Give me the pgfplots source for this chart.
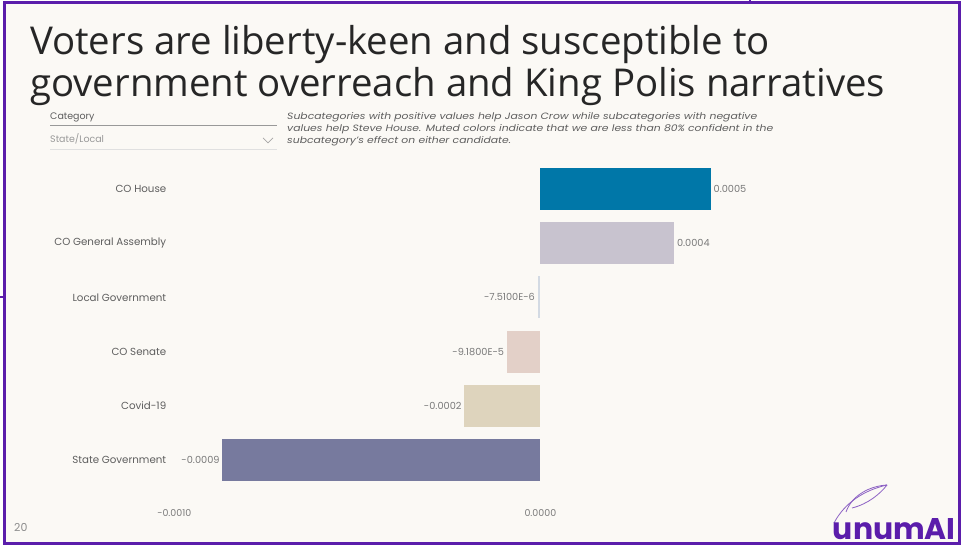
\documentclass[border=0pt]{standalone}
\usepackage{pgfplots}
\pgfplotsset{compat=1.18}
\usepackage{fontspec}
\setmainfont{Poppins}
\newfontfamily\titlefont{Open Sans}
\definecolor{bgc}{HTML}{FBF9F5}
\definecolor{framec}{HTML}{5B1DAB}
\definecolor{txt}{HTML}{5E5E5E}
\definecolor{lbl}{HTML}{7A7A7A}
\definecolor{cHouse}{HTML}{0077A8}
\definecolor{cGA}{HTML}{C8C3CF}
\definecolor{cLocal}{HTML}{D3DAE3}
\definecolor{cSenate}{HTML}{E3D0C8}
\definecolor{cCovid}{HTML}{DED4BD}
\definecolor{cState}{HTML}{777A9E}
\begin{document}
\begin{tikzpicture}[x=1bp,y=1bp]
\useasboundingbox (0,0) rectangle (964,550);
\fill[white] (0,0) rectangle (964,550);
\fill[bgc] (4,6) rectangle (960,547);
\draw[framec,line width=3bp] (4.5,6.5) rectangle (959.5,547);
\draw[framec,line width=2bp] (0,253) -- (5,253);
\draw[framec,line width=1.5bp] (750,547) -- (750,550);
% title
\node[anchor=base west,inner sep=0,font=\titlefont\fontsize{38.5}{44}\selectfont,text=black!85] at (30,495) {Voters are liberty-keen and susceptible to};
\node[anchor=base west,inner sep=0,font=\titlefont\fontsize{38.5}{44}\selectfont,text=black!85] at (30,453) {government overreach and King Polis narratives};
% filter widget
\node[anchor=base west,inner sep=0,font=\fontsize{9.5}{11}\selectfont,text=txt] at (50,430) {Category};
\draw[black!40,line width=0.8bp] (50,425) -- (277,425);
\node[anchor=base west,inner sep=0,font=\fontsize{9.5}{11}\selectfont,text=black!40] at (50,407) {State/Local};
\draw[black!35,line width=0.7bp] (263,412) -- (268,407) -- (273,412);
\draw[black!12,line width=0.7bp] (50,401) -- (277,401);
\begin{scope}[xscale=1.18]
\node[anchor=base west,inner sep=0,transform shape,font=\itshape\fontsize{9.2}{11}\selectfont,text=txt] at (287/1.18,430) {Subcategories with positive values help Jason Crow while subcategories with negative};
\node[anchor=base west,inner sep=0,transform shape,font=\itshape\fontsize{9.2}{11}\selectfont,text=txt] at (287/1.18,418) {values help Steve House. Muted colors indicate that we are less than 80\% confident in the};
\node[anchor=base west,inner sep=0,transform shape,font=\itshape\fontsize{9.2}{11}\selectfont,text=txt] at (287/1.18,406) {subcategory's effect on either candidate.};
\end{scope}
% page number
\node[anchor=base west,inner sep=0,font=\fontsize{11}{12}\selectfont,text=black!45] at (14,18) {20};
% logo
\draw[framec!70,line width=0.8bp] (834,27) .. controls (845,48) and (865,60) .. (887,65);
\draw[framec!70,line width=0.8bp] (846,38) .. controls (852,55) and (870,64) .. (887,65);
\draw[framec!70,line width=0.8bp] (852,42) .. controls (868,46) and (880,56) .. (887,65);
\node[anchor=base east,inner sep=0,font=\bfseries\fontsize{30}{32}\selectfont,text=framec] at (956,10) {unumAI};
% chart
\begin{axis}[
  at={(167bp,63bp)}, anchor=south west,
  scale only axis, width=776bp, height=325bp,
  xbar, bar width=42bp,
  xmin=-0.00102, xmax=0.0011,
  ymin=-0.5, ymax=5.5, y dir=reverse,
  scaled x ticks=false,
  axis line style={draw=none}, tick style={draw=none},
  xtick={-0.001,0}, xticklabels={-0.0010,0.0000},
  ytick={0,1,2,3,4,5},
  yticklabels={CO House,CO General Assembly,Local Government,CO Senate,Covid-19,State Government},
  ticklabel style={font=\fontsize{10.3}{12}\selectfont,text=txt},
  yticklabel style={xshift=7bp},
  xticklabel style={yshift=-19bp,font=\fontsize{9.5}{12}\selectfont,text=lbl},
  point meta=explicit symbolic,
  nodes near coords={\pgfplotspointmeta},
  every node near coord/.append style={font=\fontsize{9.8}{11}\selectfont,text=lbl,inner sep=2.5bp},
  clip=false,
]
\addplot[fill=cHouse,draw=none,bar shift=0pt,nodes near coords style={anchor=west}] coordinates {(0.000466,0) [0.0005]};
\addplot[fill=cGA,draw=none,bar shift=0pt,nodes near coords style={anchor=west}] coordinates {(0.000366,1) [0.0004]};
\addplot[fill=cLocal,draw=none,bar shift=0pt,nodes near coords style={anchor=east}] coordinates {(-0.00000751,2) [-7.5100E-6]};
\addplot[fill=cSenate,draw=none,bar shift=0pt,nodes near coords style={anchor=east}] coordinates {(-0.0000918,3) [-9.1800E-5]};
\addplot[fill=cCovid,draw=none,bar shift=0pt,nodes near coords style={anchor=east}] coordinates {(-0.000208,4) [-0.0002]};
\addplot[fill=cState,draw=none,bar shift=0pt,nodes near coords style={anchor=east}] coordinates {(-0.000869,5) [-0.0009]};
\end{axis}
\end{tikzpicture}
\end{document}
